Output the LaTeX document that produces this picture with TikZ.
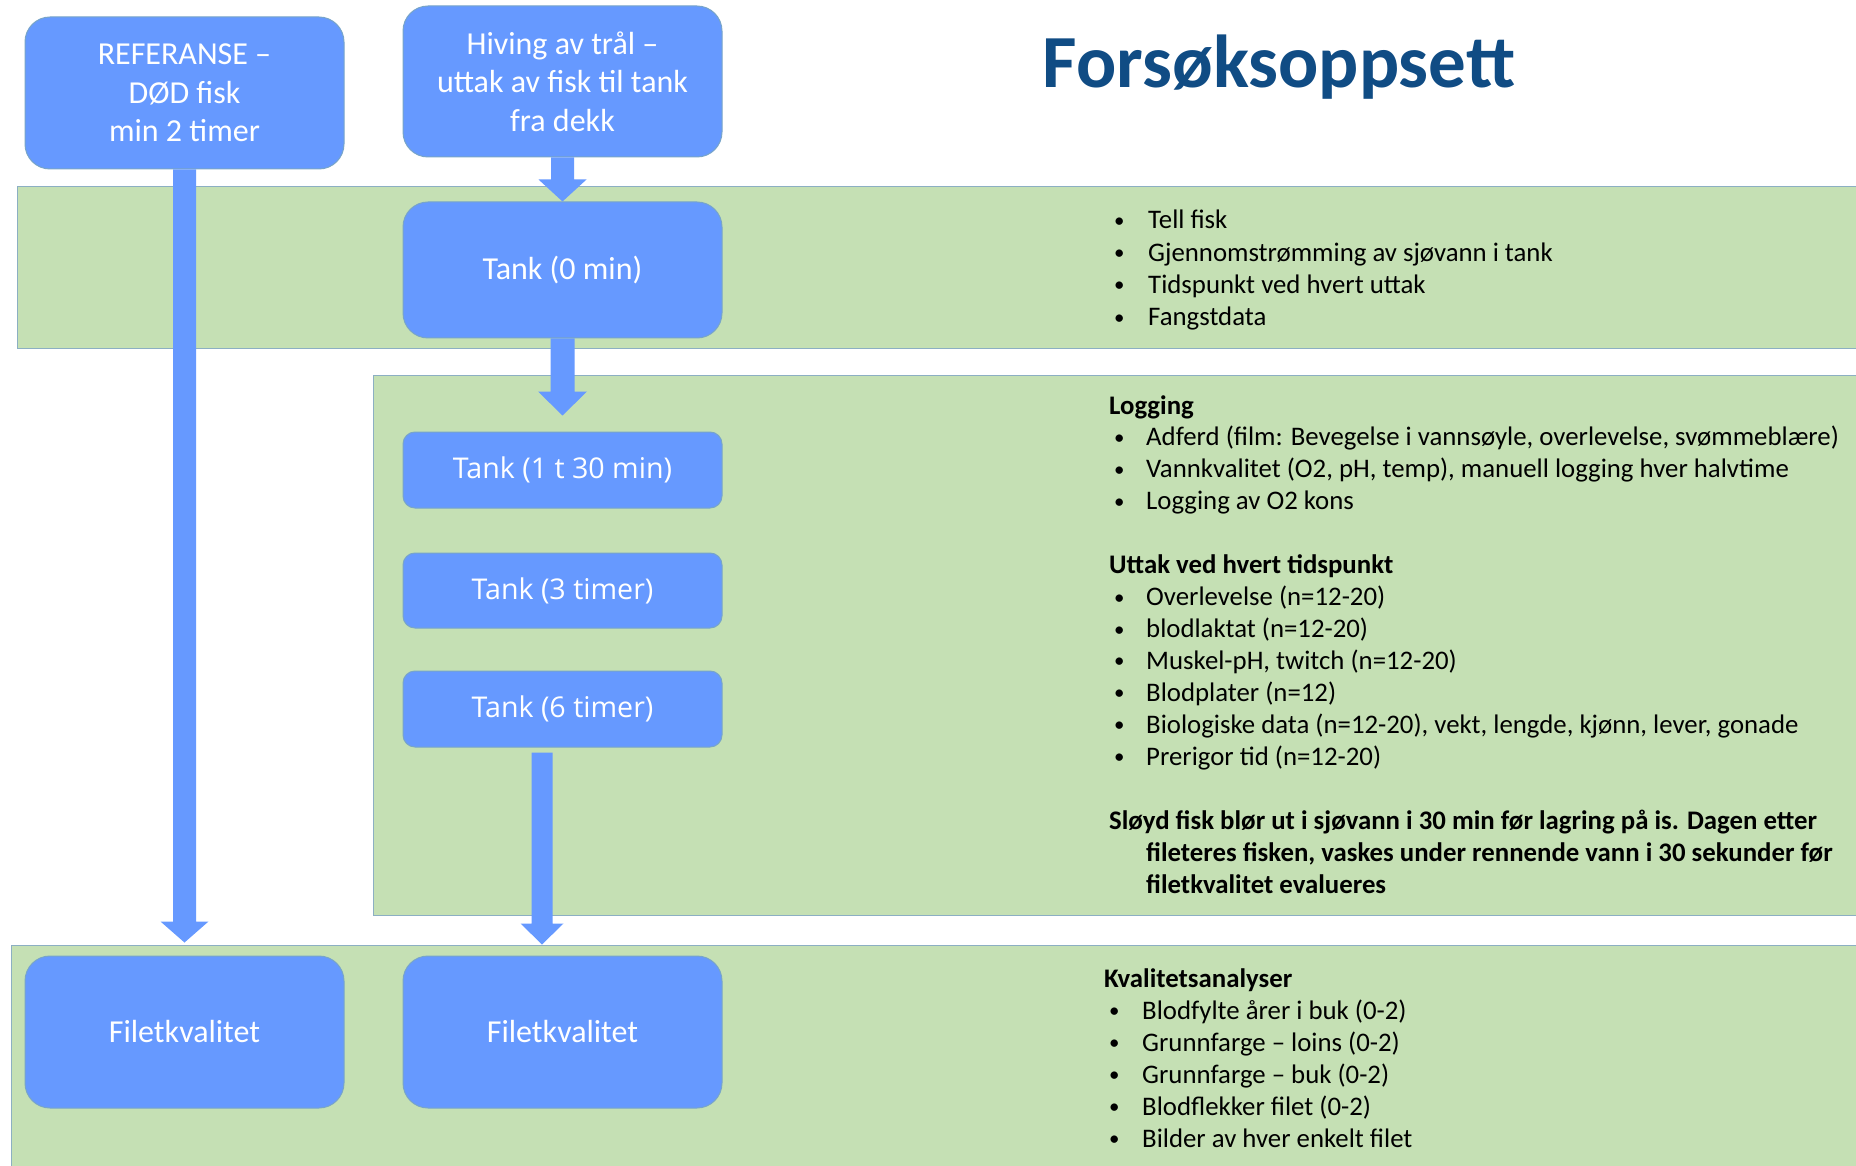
\documentclass[tikz,border=0pt]{standalone}
\usepackage{fontspec}
\setmainfont{Carlito}
\newfontfamily\osans{Open Sans}
\usetikzlibrary{calc}
\definecolor{boxblue}{RGB}{102,153,255}
\definecolor{boxedge}{RGB}{120,165,200}
\definecolor{bandgreen}{RGB}{197,224,180}
\definecolor{bandedge}{RGB}{140,175,195}
\definecolor{titleblue}{RGB}{16,76,132}
\newcommand\bl[2]{\makebox[#1pt][l]{\raisebox{1.6pt}{\scalebox{0.78}{•}}}#2}
\newcommand\barrow[5]{%
  \fill[boxblue] ($(#1)+(-#3,0)$) -- ($(#2)+(-#3,-#5)$) -- ($(#2)+(-#4,-#5)$) -- (#2)
    -- ($(#2)+(#4,-#5)$) -- ($(#2)+(#3,-#5)$) -- ($(#1)+(#3,0)$) -- cycle;}
\begin{document}
\begin{tikzpicture}[x=1pt,y=-1pt,
 bigbox/.style={draw=boxedge, line width=1pt, fill=boxblue, rounded corners=25pt, minimum width=319pt, text=white, align=center, font=\fontsize{32}{38.5}\selectfont, inner sep=0pt},
 smallbox/.style={draw=boxedge, line width=1pt, fill=boxblue, rounded corners=12pt, minimum width=319pt, text=white, font=\osans\fontsize{28.6}{32}\selectfont, inner sep=0pt},
 band/.style={draw=bandedge, line width=1pt, fill=bandgreen},
 txt/.style={anchor=base west, inner sep=0pt, font=\fontsize{26.8}{32}\selectfont},
 hd/.style={anchor=base west, inner sep=0pt, font=\bfseries\fontsize{26.8}{32}\selectfont}]
\useasboundingbox (0,0) rectangle (1856,1166);
\fill[white] (0,0) rectangle (1856,1166);
\path[band] (17,187) rectangle (1870,349);
\path[band] (373,375) rectangle (1870,915);
\path[band] (11,945) rectangle (1870,1180);

\node[anchor=base, inner sep=0pt, text=titleblue, font=\bfseries\fontsize{75}{80}\selectfont] (title) at (1279,88) {Forsøksoppsett};

\node[bigbox, minimum height=152pt] (ref) at (184.5,93) {REFERANSE –\\DØD fisk\\min 2 timer};
\node[bigbox, minimum height=151pt] (hiv) at (562.5,81.5) {Hiving av trål –\\uttak av fisk til tank\\fra dekk};
\node[bigbox, minimum height=136pt] (t0) at (562.5,270) {Tank (0 min)};
\node[smallbox, minimum height=76pt] (t1) at (562.5,470) {Tank (1 t 30 min)};
\node[smallbox, minimum height=75pt] (t3) at (562.5,590.5) {Tank (3 timer)};
\node[smallbox, minimum height=76pt] (t6) at (562.5,709) {Tank (6 timer)};
\node[bigbox, minimum height=152pt] (f1) at (184.5,1032) {Filetkvalitet};
\node[bigbox, minimum height=152pt] (f2) at (562.5,1032) {Filetkvalitet};

\coordinate (a1tip) at ($(t1.north)+(0,-16)$);
\coordinate (a2tip) at ($(f1.north)+(0,-13)$);
\coordinate (a3s) at ($(t6.south)+(-20.5,5)$);
\coordinate (a3tip) at ($(f2.north)+(-20.5,-11)$);
\barrow{hiv.south}{t0.north}{11.5}{24}{22}
\barrow{t0.south}{a1tip}{12}{24.5}{24}
\barrow{ref.south}{a2tip}{11.5}{24}{21}
\barrow{a3s}{a3tip}{10.5}{21.5}{21}

% top band list
\node[txt] (tb1) at (1114,229) {\bl{34}{Tell fisk}};
\node[txt] (tb2) at (1114,261.3) {\bl{34}{Gjennomstrømming av sjøvann i tank}};
\node[txt] (tb3) at (1114,293.6) {\bl{34}{Tidspunkt ved hvert uttak}};
\node[txt] (tb4) at (1114,325.9) {\bl{34}{Fangstdata}};

% logging block
\node[hd] (lg0) at (1109,414) {Logging};
\node[txt] (lg1) at (1114,445.9) {\bl{32}{Adferd (film: Bevegelse i vannsøyle, overlevelse, svømmeblære)}};
\node[txt] (lg2) at (1114,477.9) {\bl{32}{Vannkvalitet (O2, pH, temp), manuell logging hver halvtime}};
\node[txt] (lg3) at (1114,509.8) {\bl{32}{Logging av O2 kons}};
\node[hd] (ut0) at (1109,573.7) {Uttak ved hvert tidspunkt};
\node[txt] (ut1) at (1114,605.6) {\bl{32}{Overlevelse (n=12-20)}};
\node[txt] (ut2) at (1114,637.6) {\bl{32}{blodlaktat (n=12-20)}};
\node[txt] (ut3) at (1114,669.4) {\bl{32}{Muskel-pH, twitch (n=12-20)}};
\node[txt] (ut4) at (1114,701.4) {\bl{32}{Blodplater (n=12)}};
\node[txt] (ut5) at (1114,733.3) {\bl{32}{Biologiske data (n=12-20), vekt, lengde, kjønn, lever, gonade}};
\node[txt] (ut6) at (1114,765.2) {\bl{32}{Prerigor tid (n=12-20)}};
\node[hd] (sl1) at (1109,829.1) {Sløyd fisk blør ut i sjøvann i 30 min før lagring på is. Dagen etter};
\node[hd] (sl2) at (1146,861) {fileteres fisken, vaskes under rennende vann i 30 sekunder før};
\node[hd] (sl3) at (1146,893) {filetkvalitet evalueres};

% quality block
\node[hd] (kv0) at (1104,987) {Kvalitetsanalyser};
\node[txt] (kv1) at (1109,1019) {\bl{33}{Blodfylte årer i buk (0-2)}};
\node[txt] (kv2) at (1109,1051) {\bl{33}{Grunnfarge – loins (0-2)}};
\node[txt] (kv3) at (1109,1083) {\bl{33}{Grunnfarge – buk (0-2)}};
\node[txt] (kv4) at (1109,1115) {\bl{33}{Blodflekker filet (0-2)}};
\node[txt] (kv5) at (1109,1147) {\bl{33}{Bilder av hver enkelt filet}};
\end{tikzpicture}
\end{document}
